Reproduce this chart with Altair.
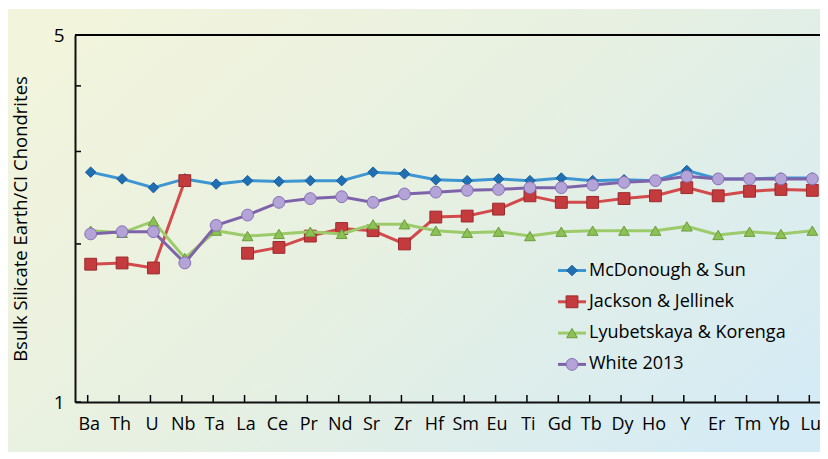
import altair as alt
import pandas as pd

elements = ["Ba", "Th", "U", "Nb", "Ta", "La", "Ce", "Pr", "Nd", "Sr", "Zr", "Hf",
            "Sm", "Eu", "Ti", "Gd", "Tb", "Dy", "Ho", "Y", "Er", "Tm", "Yb", "Lu"]
series_names = ["McDonough & Sun", "Jackson & Jellinek", "Lyubetskaya & Korenga", "White 2013"]

mcdonough = [2.74, 2.66, 2.56, 2.66, 2.60, 2.64, 2.63, 2.64, 2.64, 2.74, 2.72, 2.65,
             2.64, 2.66, 2.64, 2.67, 2.64, 2.65, 2.64, 2.76, 2.66, 2.66, 2.67, 2.67]
jackson = [1.83, 1.84, 1.80, 2.64, None, 1.92, 1.97, 2.07, 2.14, 2.12, 2.00, 2.25,
           2.26, 2.33, 2.47, 2.40, 2.40, 2.44, 2.47, 2.56, 2.47, 2.52, 2.54, 2.53]
lyubetskaya = [2.12, 2.10, 2.21, 1.88, 2.12, 2.07, 2.09, 2.11, 2.09, 2.18, 2.18, 2.12,
               2.10, 2.11, 2.07, 2.11, 2.12, 2.12, 2.12, 2.16, 2.08, 2.11, 2.09, 2.12]
white = [2.09, 2.11, 2.11, 1.84, 2.17, 2.27, 2.40, 2.44, 2.46, 2.40, 2.49, 2.51,
         2.53, 2.54, 2.56, 2.56, 2.59, 2.62, 2.64, 2.69, 2.66, 2.66, 2.66, 2.66]
series_values = [mcdonough, jackson, lyubetskaya, white]

line_colors = ["#3d96d2", "#d24a4c", "#9dcb6b", "#7f63aa"]
fill_colors = ["#1f6fb2", "#c43b3e", "#8cc255", "#b3a3d6"]
stroke_colors = ["#1a5f9c", "#9c2a2d", "#6b9c3c", "#8670b6"]
shapes = ["diamond", "square", "triangle-up", "circle"]
sizes = [110, 140, 115, 140]

y_ticks = [1, 2, 3, 4, 5]
y_labels = [1, 5]

FONT = "Open Sans"
W, H = 753, 367

x_enc = alt.X("element:N", sort=elements,
              scale=alt.Scale(type="point", padding=0.5, domain=elements),
              axis=alt.Axis(title=None, ticks=False, labelFontSize=18, labelFont=FONT,
                            labelColor="black", labelPadding=13, labelAngle=0,
                            labelOffset=-2, domainColor="#111111", domainWidth=2,
                            grid=False, zindex=1))
y_scale = alt.Scale(type="log", domain=[1, 5], nice=False)
y_axis = alt.Axis(title="Bsulk Silicate Earth/CI Chondrites", values=y_labels, format="~g",
                  ticks=False, grid=False, labelFontSize=19, labelFont=FONT,
                  labelColor="black", labelPadding=11, domainColor="#111111",
                  domainWidth=2, titleFontSize=18.5, titleFont=FONT, titleFontWeight="normal",
                  titleColor="black", titleX=-55, titleY=H / 2, titleAngle=270,
                  titleAlign="center", titleBaseline="middle", zindex=1)

gradient = alt.Gradient(gradient="linear", x1=0, y1=0.2, x2=1, y2=0.8,
                        stops=[alt.GradientStop(color="#f2f4dc", offset=0),
                               alt.GradientStop(color="#e6f0e2", offset=0.5),
                               alt.GradientStop(color="#d5ebf5", offset=1)])
one = pd.DataFrame({"k": [0]})
bg = alt.Chart(one).mark_rect(fill=gradient).encode(
    x=alt.value(-67), x2=alt.value(W + 8), y=alt.value(-26), y2=alt.value(H + 50))

layers = [bg]
for i, name in enumerate(series_names):
    rows = []
    seg = 0
    for el, v in zip(elements, series_values[i]):
        if v is None:
            seg += 1
            continue
        rows.append({"element": el, "value": v, "seg": seg, "series": name})
    df = pd.DataFrame(rows)
    line = alt.Chart(df).mark_line(color=line_colors[i], strokeWidth=3).encode(
        x=x_enc, y=alt.Y("value:Q", scale=y_scale, axis=y_axis), detail="seg:N")
    pts = alt.Chart(df).mark_point(filled=True, fill=fill_colors[i], stroke=stroke_colors[i],
                                   strokeWidth=1, opacity=1, shape=shapes[i],
                                   size=sizes[i]).encode(
        x=x_enc, y=alt.Y("value:Q", scale=y_scale, axis=y_axis))
    layers += [line, pts]

xt = alt.Chart(pd.DataFrame({"element": elements})).mark_rule(
    color="black", strokeWidth=1.5, xOffset=-3).encode(
    x=x_enc, y=alt.value(H - 7), y2=alt.value(H))
yt = alt.Chart(pd.DataFrame({"v": y_ticks})).mark_rule(color="black", strokeWidth=1.5).encode(
    y=alt.Y("v:Q", scale=y_scale, axis=y_axis), x=alt.value(0), x2=alt.value(6))
top = alt.Chart(one).mark_rule(color="black", strokeWidth=2).encode(
    x=alt.value(0), x2=alt.value(W), y=alt.value(0))
layers += [xt, yt, top]

leg_y0, leg_dy = 235.5, 31.3
for i, name in enumerate(series_names):
    ly = leg_y0 + i * leg_dy
    ld = pd.DataFrame({"name": [name]})
    layers.append(alt.Chart(ld).mark_rule(color=line_colors[i], strokeWidth=3).encode(
        x=alt.value(483), x2=alt.value(511), y=alt.value(ly)))
    layers.append(alt.Chart(ld).mark_point(filled=True, fill=fill_colors[i],
                                           stroke=stroke_colors[i], strokeWidth=1, opacity=1,
                                           shape=shapes[i], size=sizes[i]).encode(
        x=alt.value(497), y=alt.value(ly)))
    layers.append(alt.Chart(ld).mark_text(align="left", baseline="middle", font=FONT,
                                          fontSize=18, color="black").encode(
        x=alt.value(514), y=alt.value(ly), text="name:N"))

chart = alt.layer(*layers).properties(
    width=W, height=H, autosize="none",
    padding={"left": 67, "top": 27, "right": -8, "bottom": 50},
).configure_view(stroke=None).configure(background="white", font=FONT)

chart.save("out.html", embed_options={"renderer": "svg", "actions": False})
